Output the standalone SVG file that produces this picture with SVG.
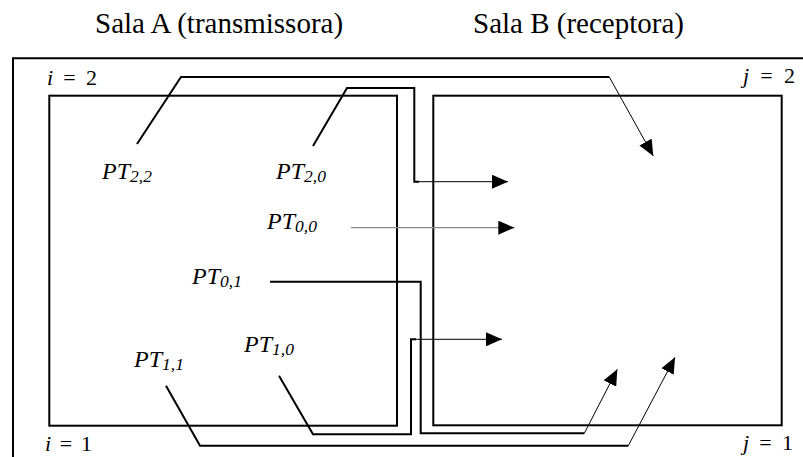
<svg xmlns="http://www.w3.org/2000/svg" width="803" height="457" viewBox="0 0 803 457">
<style>
.frame{fill:none;stroke:#000;stroke-width:2}
.thick{fill:none;stroke:#000;stroke-width:2;stroke-linejoin:miter}
.thin{fill:none;stroke:#000;stroke-width:1}
.gray{fill:none;stroke:#8a8a8a;stroke-width:1.3}
text{font-family:'Liberation Serif','DejaVu Serif','Times New Roman',serif;fill:#000}
.hdr{font-size:29px}
.lbl{font-size:24px;font-style:italic}
.sub{font-size:17.5px}
.idx{font-size:22px}
</style>
<defs>
<marker id="ah" markerUnits="userSpaceOnUse" markerWidth="16" markerHeight="14" refX="16" refY="7" orient="auto">
<path d="M0,0 L16,7 L0,14 Z" fill="#000"/>
</marker>
</defs>
<rect width="803" height="457" fill="#fff"/>

<g id="headers">
<text class="hdr" x="95" y="33">Sala A (transmissora)</text>
<text class="hdr" x="473" y="33">Sala B (receptora)</text>
</g>

<g id="outer-frame">
<path class="frame" d="M13,457 L13,58.3 L803,58.3"/>
</g>

<g id="sala-a">
<rect class="frame" x="49.3" y="95.7" width="347.7" height="330"/>
<text class="idx" x="47" y="85" textLength="50" lengthAdjust="spacing"><tspan font-style="italic">i</tspan> = 2</text>
<text class="idx" x="45" y="451" textLength="47" lengthAdjust="spacing"><tspan font-style="italic">i</tspan> = 1</text>
</g>

<g id="sala-b">
<rect class="frame" x="433.3" y="95.7" width="348.4" height="329.6"/>
<text class="idx" x="743" y="83" textLength="52" lengthAdjust="spacing"><tspan font-style="italic">j</tspan> = 2</text>
<text class="idx" x="743" y="450" textLength="50" lengthAdjust="spacing"><tspan font-style="italic">j</tspan> = 1</text>
</g>

<g id="pt22"><text class="lbl" x="102" y="179">PT<tspan class="sub" dy="3">2,2</tspan></text></g>
<g id="pt20"><text class="lbl" x="276" y="179">PT<tspan class="sub" dy="3">2,0</tspan></text></g>
<g id="pt00"><text class="lbl" x="267" y="229">PT<tspan class="sub" dy="3">0,0</tspan></text></g>
<g id="pt01"><text class="lbl" x="192" y="284">PT<tspan class="sub" dy="3">0,1</tspan></text></g>
<g id="pt10"><text class="lbl" x="244" y="352">PT<tspan class="sub" dy="3">1,0</tspan></text></g>
<g id="pt11"><text class="lbl" x="134" y="367">PT<tspan class="sub" dy="3">1,1</tspan></text></g>

<g id="connectors">
<polyline class="thick" points="137,144 181,77 609.3,77"/>
<line class="thin" x1="609.3" y1="77" x2="653.3" y2="156" marker-end="url(#ah)"/>
<polyline class="thick" points="313,146 347,88 414.3,88 414.3,181.7 419,181.7"/>
<line class="thin" x1="418" y1="181.7" x2="508" y2="181.7" marker-end="url(#ah)"/>
<line class="gray" x1="351" y1="227.7" x2="505" y2="227.7"/>
<line class="thin" x1="500" y1="227.7" x2="514.3" y2="227.7" marker-end="url(#ah)"/>
<polyline class="thick" points="270,281.7 420.7,281.7 420.7,433.3 584.3,433.3"/>
<line class="thin" x1="584.3" y1="433.3" x2="617.3" y2="369.3" marker-end="url(#ah)"/>
<polyline class="thick" points="279,375.7 313,434.3 411,434.3 411,339.3 416,339.3"/>
<line class="thin" x1="415" y1="339.3" x2="502" y2="339.3" marker-end="url(#ah)"/>
<polyline class="thick" points="166,385.7 200,445.7 628.3,445.7"/>
<line class="thin" x1="628.3" y1="445.7" x2="675" y2="357.3" marker-end="url(#ah)"/>
</g>
</svg>
